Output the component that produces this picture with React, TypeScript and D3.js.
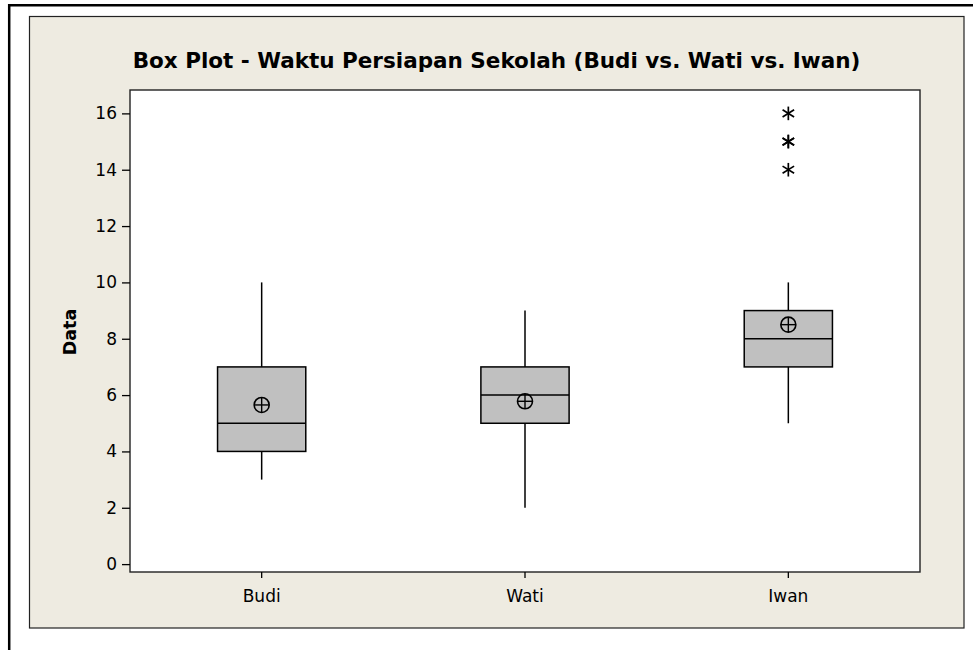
import React, { useRef, useEffect } from "react";
import * as d3 from "d3";

// box plot summary values
const categories = ["Budi", "Wati", "Iwan"];
const whiskerLow = [3, 2, 5];
const q1 = [4, 5, 7];
const medians = [5, 6, 8];
const q3 = [7, 7, 9];
const whiskerHigh = [10, 9, 10];
const means = [5.65, 5.78, 8.5];
const outliers = [[], [], [14, 15, 15, 16]];
const yTicks = [0, 2, 4, 6, 8, 10, 12, 14, 16];

const W = 973;
const H = 650;
const plot = { left: 130, right: 920, top: 90, bottom: 572 };
const font = "'DejaVu Sans', 'Liberation Sans', sans-serif";

const App = () => {
  const svgRef = useRef<SVGSVGElement>(null);

  useEffect(() => {
    const svg = d3.select(svgRef.current);
    svg.selectAll("*").remove();

    const x = d3
      .scaleBand()
      .domain(categories)
      .range([plot.left, plot.right])
      .paddingInner(0.665)
      .paddingOuter(0.3325);
    const y = d3.scaleLinear().domain([-0.28, 16.83]).range([plot.bottom, plot.top]);

    // outer frame lines (top + left only)
    svg.append("line").attr("x1", 8).attr("x2", W).attr("y1", 5.3).attr("y2", 5.3)
      .attr("stroke", "#000").attr("stroke-width", 2.5);
    svg.append("line").attr("x1", 9.2).attr("x2", 9.2).attr("y1", 4).attr("y2", H)
      .attr("stroke", "#000").attr("stroke-width", 2.5);

    // beige panel
    svg.append("rect")
      .attr("x", 29.5).attr("y", 16.5).attr("width", 934.5).attr("height", 611.5)
      .attr("fill", "#EEEBE1").attr("stroke", "#222").attr("stroke-width", 1.2);

    // plot area
    svg.append("rect")
      .attr("x", plot.left).attr("y", plot.top)
      .attr("width", plot.right - plot.left).attr("height", plot.bottom - plot.top)
      .attr("fill", "#fff").attr("stroke", "#222").attr("stroke-width", 1.4);

    // title
    svg.append("text")
      .attr("x", 496.5).attr("y", 68.3)
      .attr("text-anchor", "middle")
      .attr("font-family", font).attr("font-weight", "bold").attr("font-size", 21.5)
      .attr("fill", "#000")
      .text("Box Plot - Waktu Persiapan Sekolah (Budi vs. Wati vs. Iwan)");

    // y label
    svg.append("text")
      .attr("transform", "translate(76,332) rotate(-90)")
      .attr("text-anchor", "middle")
      .attr("font-family", font).attr("font-weight", "bold").attr("font-size", 17.5)
      .attr("fill", "#000")
      .text("Data");

    // axes
    const yAxis = d3.axisLeft(y).tickValues(yTicks).tickSize(8).tickPadding(5);
    const yG = svg.append("g").attr("transform", `translate(${plot.left},0)`).call(yAxis);
    yG.select(".domain").remove();
    yG.selectAll("line").attr("stroke", "#000").attr("stroke-width", 1.3);
    yG.selectAll("text").attr("font-family", font).attr("font-size", 17).attr("fill", "#000");

    const xAxis = d3.axisBottom(x).tickSize(6).tickPadding(12);
    const xG = svg.append("g").attr("transform", `translate(0,${plot.bottom})`).call(xAxis);
    xG.select(".domain").remove();
    xG.selectAll("line").attr("stroke", "#000").attr("stroke-width", 1.3);
    xG.selectAll("text").attr("font-family", font).attr("font-size", 17).attr("fill", "#000");

    // boxes
    const bw = x.bandwidth();
    categories.forEach((c, i) => {
      const cx = (x(c) as number) + bw / 2;
      const g = svg.append("g");
      g.append("line").attr("x1", cx).attr("x2", cx)
        .attr("y1", y(whiskerHigh[i])).attr("y2", y(q3[i]))
        .attr("stroke", "#000").attr("stroke-width", 1.5);
      g.append("line").attr("x1", cx).attr("x2", cx)
        .attr("y1", y(q1[i])).attr("y2", y(whiskerLow[i]))
        .attr("stroke", "#000").attr("stroke-width", 1.5);
      g.append("rect")
        .attr("x", x(c) as number).attr("y", y(q3[i]))
        .attr("width", bw).attr("height", y(q1[i]) - y(q3[i]))
        .attr("fill", "#C0C0C0").attr("stroke", "#000").attr("stroke-width", 1.5);
      g.append("line").attr("x1", x(c) as number).attr("x2", (x(c) as number) + bw)
        .attr("y1", y(medians[i])).attr("y2", y(medians[i]))
        .attr("stroke", "#000").attr("stroke-width", 1.5);

      // mean symbol: circle with cross
      const my = y(means[i]);
      const r = 7.5;
      g.append("circle").attr("cx", cx).attr("cy", my).attr("r", r)
        .attr("fill", "none").attr("stroke", "#000").attr("stroke-width", 1.6);
      g.append("line").attr("x1", cx - r).attr("x2", cx + r).attr("y1", my).attr("y2", my)
        .attr("stroke", "#000").attr("stroke-width", 1.4);
      g.append("line").attr("x1", cx).attr("x2", cx).attr("y1", my - r).attr("y2", my + r)
        .attr("stroke", "#000").attr("stroke-width", 1.4);

      // outliers as asterisks
      outliers[i].forEach((v) => {
        const oy = y(v);
        const s = 6.8;
        [90, 32, 148].forEach((a) => {
          const rad = (a * Math.PI) / 180;
          g.append("line")
            .attr("x1", cx - s * Math.cos(rad)).attr("x2", cx + s * Math.cos(rad))
            .attr("y1", oy - s * Math.sin(rad)).attr("y2", oy + s * Math.sin(rad))
            .attr("stroke", "#000").attr("stroke-width", 1.7);
        });
      });
    });
  }, []);

  return (
    <svg
      ref={svgRef}
      width={W}
      height={H}
      style={{ position: "absolute", left: 0, top: 0, background: "#fff" }}
    />
  );
};

export default App;
